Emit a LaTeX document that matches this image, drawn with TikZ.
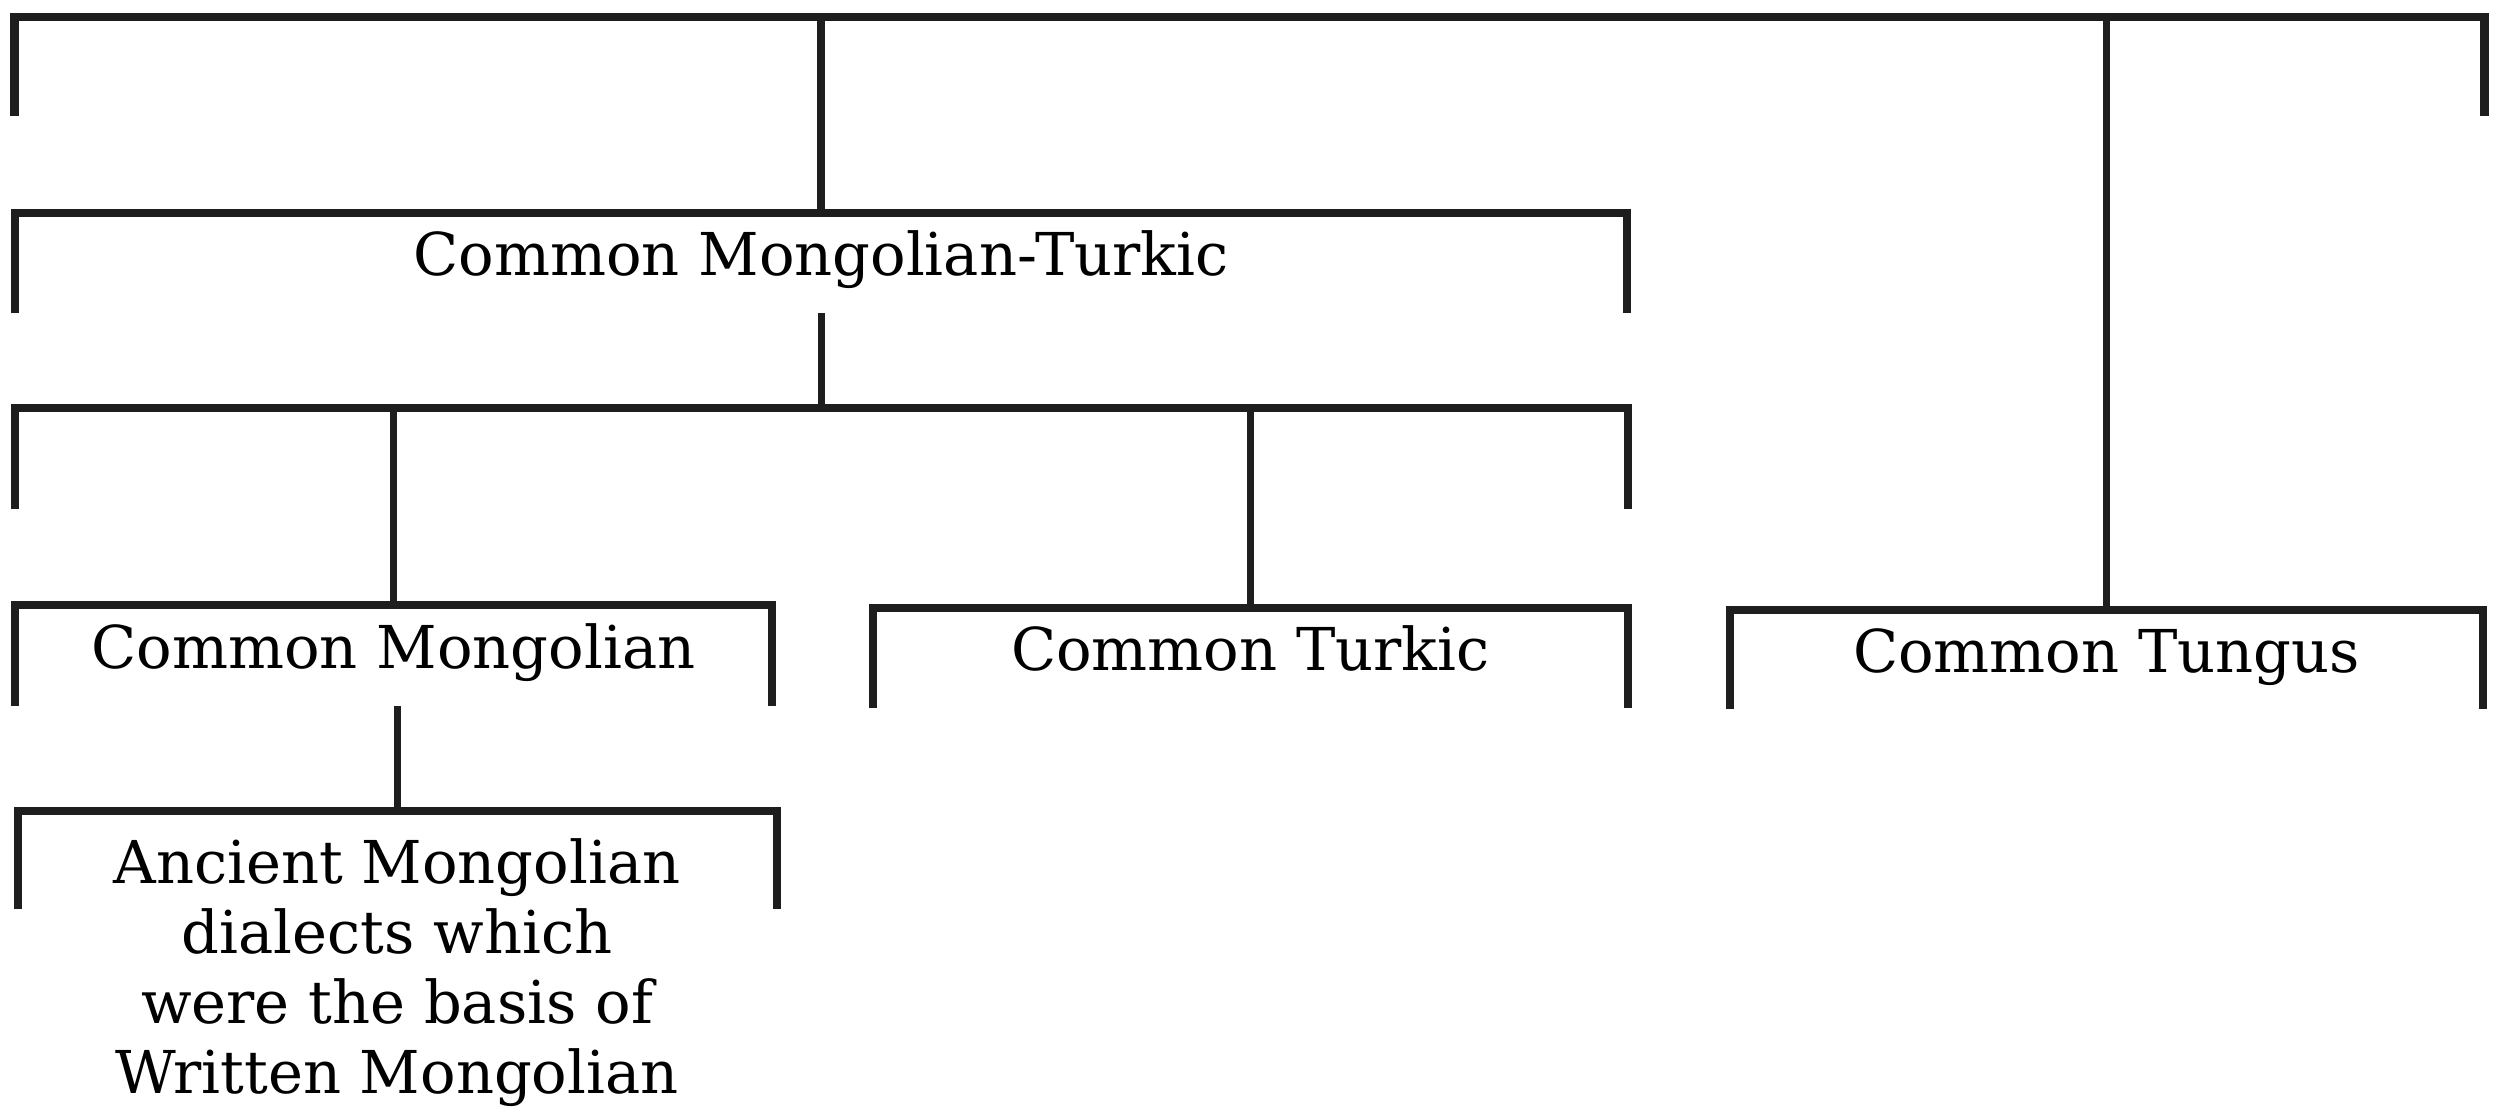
\documentclass[tikz,border=0pt]{standalone}
\usepackage{tikz}
\usepackage{fontspec}
\setmainfont{DejaVu Serif}

\newcommand{\drawfork}[1]{\draw[bar] (#1.south west) -- (#1.north west) -- (#1.north east) -- (#1.south east);}

\begin{document}
\begin{tikzpicture}[x=0.01cm, y=-0.01cm]
    \definecolor{ink}{RGB}{30, 30, 30}
    \tikzset{
        words/.style={inner sep=0pt, align=center, font=\fontsize{16.8}{19.9}\selectfont},
        fork/.style={words, anchor=north, text height=0.85em, text depth=0.15em},
        bar/.style={line width=2.4pt, color=ink},
        stem/.style={line width=2pt, color=ink},
    }

    \useasboundingbox (0,0) rectangle (2504,1113);

    % groups, each one a bracket
    \node[fork, minimum width=24.67cm, minimum height=0.98cm] (top) at (1249.5,17) {};
    \node[fork, minimum width=16.10cm, minimum height=0.99cm] (cmt) at (821,213) {Common Mongolian-Turkic};
    \node[fork, minimum width=16.11cm, minimum height=1.00cm] (mid) at (821.5,408) {};
    \node[fork, minimum width=7.55cm, minimum height=1.00cm] (cm) at (393.5,605) {Common Mongolian};
    \node[fork, minimum width=7.53cm, minimum height=0.99cm] (ct) at (1250.5,608) {Common Turkic};
    \node[fork, minimum width=7.51cm, minimum height=0.98cm] (ctu) at (2106.5,610) {Common Tungus};
    \node[fork, minimum width=7.57cm, minimum height=0.97cm] (anc) at (397.5,811) {};
    \node[words] (anctext) at (397,973) {Ancient Mongolian\\dialects which\\were the basis of\\Written Mongolian};

    \foreach \g in {top, cmt, mid, cm, ct, ctu, anc}
        \drawfork{\g};

    % stems
    \draw[stem] (cmt.north) -- (cmt.north |- top.north);
    \draw[stem] (ctu.north) -- (ctu.north |- top.north);
    \draw[stem] (mid.north) -- (mid.north |- cmt.south);
    \draw[stem] (cm.north) -- (cm.north |- mid.north);
    \draw[stem] (ct.north) -- (ct.north |- mid.north);
    \draw[stem] (anc.north) -- (anc.north |- cm.south);
\end{tikzpicture}
\end{document}
